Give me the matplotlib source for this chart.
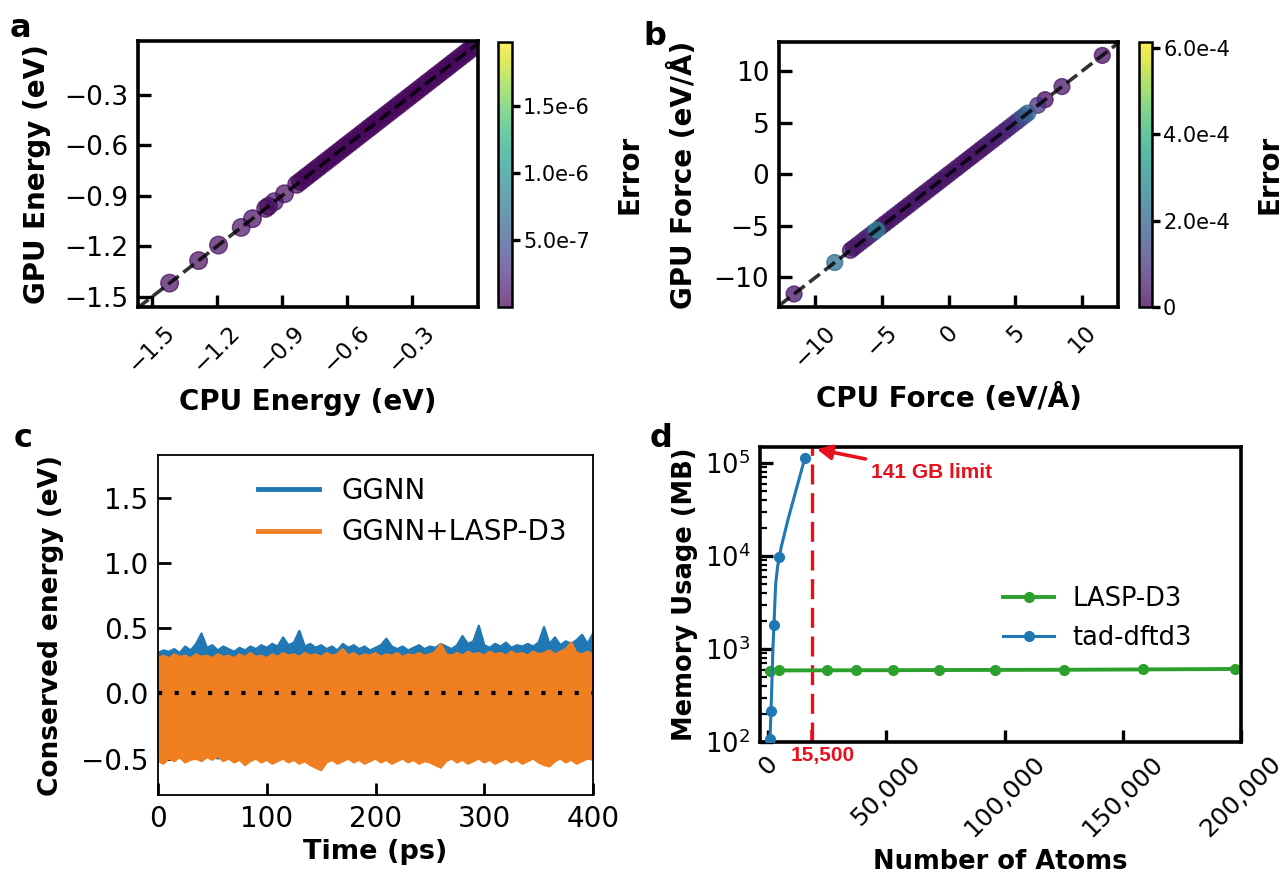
import numpy as np
import matplotlib
matplotlib.use('Agg')
import matplotlib.pyplot as plt
import matplotlib.transforms as mtransforms
from matplotlib.ticker import FuncFormatter, FixedLocator, LogLocator, NullFormatter
from matplotlib.path import Path
from matplotlib.patches import PathPatch
from matplotlib.lines import Line2D

W, H, DPI = 1283, 872, 100

# ---------------- data ----------------
# (a) energies: CPU vs GPU (identical within ~1e-7 eV)
cpu_energy = [-1.419, -1.285, -1.193, -1.088, -1.036, -0.975, -0.962, -0.935, -0.888,
              -0.832, -0.815, -0.797, -0.781, -0.762, -0.745, -0.728, -0.709, -0.692,
              -0.674, -0.657, -0.639, -0.621, -0.604, -0.586, -0.569, -0.551, -0.533,
              -0.516, -0.498, -0.481, -0.463, -0.446, -0.428, -0.410, -0.393, -0.375,
              -0.358, -0.340, -0.322, -0.305, -0.287, -0.270, -0.252, -0.234, -0.217,
              -0.199, -0.182, -0.164, -0.146, -0.129, -0.111, -0.094, -0.076, -0.058,
              -0.041, -0.023, -0.008]
gpu_energy = [-1.419, -1.285, -1.193, -1.088, -1.036, -0.975, -0.962, -0.935, -0.888,
              -0.832, -0.815, -0.797, -0.781, -0.762, -0.745, -0.728, -0.709, -0.692,
              -0.674, -0.657, -0.639, -0.621, -0.604, -0.586, -0.569, -0.551, -0.533,
              -0.516, -0.498, -0.481, -0.463, -0.446, -0.428, -0.410, -0.393, -0.375,
              -0.358, -0.340, -0.322, -0.305, -0.287, -0.270, -0.252, -0.234, -0.217,
              -0.199, -0.182, -0.164, -0.146, -0.129, -0.111, -0.094, -0.076, -0.058,
              -0.041, -0.023, -0.008]
energy_error = [6e-8, 5e-8, 6e-8, 7e-8, 5e-8, 3e-8, 4e-8, 8e-8, 6e-8,
                3e-8, 2e-8, 4e-8, 3e-8, 2e-8, 5e-8, 3e-8, 2e-8, 4e-8,
                3e-8, 2e-8, 3e-8, 4e-8, 2e-8, 3e-8, 5e-8, 3e-8, 2e-8,
                4e-8, 3e-8, 2e-8, 3e-8, 4e-8, 2e-8, 3e-8, 5e-8, 3e-8,
                2e-8, 4e-8, 3e-8, 2e-8, 3e-8, 4e-8, 2e-8, 3e-8, 5e-8,
                3e-8, 2e-8, 4e-8, 3e-8, 2e-8, 3e-8, 4e-8, 2e-8, 3e-8,
                5e-8, 3e-8, 2e-8]
energy_cbar_ticks = [5e-7, 1.0e-6, 1.5e-6]
energy_ticks = [-1.5, -1.2, -0.9, -0.6, -0.3]

# (b) forces: CPU vs GPU
cpu_force = [-11.60, -8.55, -7.37, -7.15, -6.85, -6.55, -6.25, -5.95, -5.65, -5.40,
             -5.10, -4.80, -4.50, -4.20, -3.90, -3.60, -3.30, -3.00, -2.70, -2.40,
             -2.10, -1.80, -1.50, -1.20, -0.90, -0.60, -0.30, 0.00, 0.30, 0.60,
             0.90, 1.20, 1.50, 1.80, 2.10, 2.40, 2.70, 3.00, 3.30, 3.60,
             3.90, 4.20, 4.50, 4.80, 5.10, 5.40, 5.70, 5.93, 6.68, 7.23,
             8.50, 11.52]
gpu_force = [-11.60, -8.55, -7.37, -7.15, -6.85, -6.55, -6.25, -5.95, -5.65, -5.40,
             -5.10, -4.80, -4.50, -4.20, -3.90, -3.60, -3.30, -3.00, -2.70, -2.40,
             -2.10, -1.80, -1.50, -1.20, -0.90, -0.60, -0.30, 0.00, 0.30, 0.60,
             0.90, 1.20, 1.50, 1.80, 2.10, 2.40, 2.70, 3.00, 3.30, 3.60,
             3.90, 4.20, 4.50, 4.80, 5.10, 5.40, 5.70, 5.93, 6.68, 7.23,
             8.50, 11.52]
force_error = [3e-5, 2.2e-4, 4e-5, 2e-5, 3e-5, 5e-5, 2e-5, 6e-5, 9e-5, 2.8e-4,
               4e-5, 2e-5, 3e-5, 2e-5, 4e-5, 2e-5, 3e-5, 2e-5, 4e-5, 2e-5,
               3e-5, 2e-5, 4e-5, 2e-5, 3e-5, 2e-5, 4e-5, 2e-5, 3e-5, 2e-5,
               4e-5, 2e-5, 3e-5, 2e-5, 4e-5, 2e-5, 3e-5, 5e-5, 3e-5, 4e-5,
               6e-5, 3e-5, 5e-5, 7e-5, 6e-5, 1.2e-4, 1.5e-4, 1.9e-4, 9e-5, 2e-5,
               4e-5, 3e-5]
force_cbar_ticks = [0, 2e-4, 4e-4, 6e-4]
force_ticks = [-10, -5, 0, 5, 10]

# (c) conserved energy: envelope of the fluctuations, sampled every 5 ps
time_ps = [0, 5, 10, 15, 20, 25, 30, 35, 40, 45, 50, 55, 60, 65, 70, 75, 80, 85, 90, 95,
           100, 105, 110, 115, 120, 125, 130, 135, 140, 145, 150, 155, 160, 165, 170, 175,
           180, 185, 190, 195, 200, 205, 210, 215, 220, 225, 230, 235, 240, 245, 250, 255,
           260, 265, 270, 275, 280, 285, 290, 295, 300, 305, 310, 315, 320, 325, 330, 335,
           340, 345, 350, 355, 360, 365, 370, 375, 380, 385, 390, 395, 400]
ggnn_upper = [0.31, 0.33, 0.32, 0.34, 0.31, 0.36, 0.33, 0.38, 0.46, 0.35, 0.37, 0.33, 0.36,
              0.34, 0.32, 0.35, 0.33, 0.36, 0.34, 0.37, 0.35, 0.38, 0.36, 0.43, 0.37, 0.39,
              0.48, 0.36, 0.38, 0.35, 0.37, 0.34, 0.36, 0.33, 0.38, 0.35, 0.37, 0.34, 0.36,
              0.33, 0.35, 0.37, 0.42, 0.36, 0.34, 0.36, 0.33, 0.35, 0.37, 0.34, 0.36, 0.35,
              0.38, 0.36, 0.34, 0.37, 0.44, 0.38, 0.40, 0.52, 0.37, 0.35, 0.38, 0.36, 0.39,
              0.35, 0.37, 0.36, 0.38, 0.36, 0.39, 0.51, 0.38, 0.43, 0.37, 0.40, 0.38, 0.41,
              0.45, 0.38, 0.46]
ggnn_lower = [-0.49, -0.50, -0.48, -0.49, -0.47, -0.50, -0.48, -0.47, -0.49, -0.47, -0.48,
              -0.50, -0.49, -0.47, -0.50, -0.48, -0.51, -0.49, -0.47, -0.50, -0.48, -0.51,
              -0.49, -0.47, -0.50, -0.48, -0.51, -0.49, -0.51, -0.53, -0.55, -0.50, -0.48,
              -0.51, -0.49, -0.47, -0.50, -0.48, -0.51, -0.49, -0.48, -0.50, -0.48, -0.51,
              -0.49, -0.47, -0.50, -0.48, -0.51, -0.49, -0.50, -0.52, -0.53, -0.49, -0.47,
              -0.50, -0.48, -0.51, -0.49, -0.47, -0.50, -0.48, -0.51, -0.49, -0.47, -0.50,
              -0.48, -0.51, -0.49, -0.47, -0.50, -0.52, -0.52, -0.49, -0.47, -0.50, -0.48,
              -0.51, -0.49, -0.47, -0.48]
d3_upper = [0.27, 0.29, 0.27, 0.30, 0.28, 0.29, 0.27, 0.30, 0.28, 0.29, 0.27, 0.30, 0.28,
            0.29, 0.27, 0.30, 0.28, 0.31, 0.28, 0.29, 0.27, 0.30, 0.28, 0.31, 0.29, 0.30,
            0.28, 0.31, 0.29, 0.30, 0.28, 0.31, 0.29, 0.30, 0.34, 0.29, 0.31, 0.28, 0.30,
            0.29, 0.31, 0.28, 0.30, 0.29, 0.31, 0.28, 0.30, 0.29, 0.31, 0.29, 0.30, 0.32,
            0.38, 0.30, 0.29, 0.31, 0.29, 0.32, 0.30, 0.31, 0.29, 0.32, 0.30, 0.31, 0.29,
            0.32, 0.30, 0.31, 0.29, 0.32, 0.30, 0.31, 0.33, 0.30, 0.32, 0.34, 0.39, 0.31,
            0.30, 0.32, 0.30]
d3_lower = [-0.52, -0.54, -0.50, -0.52, -0.49, -0.53, -0.51, -0.50, -0.52, -0.49, -0.51,
            -0.48, -0.52, -0.50, -0.53, -0.51, -0.55, -0.52, -0.50, -0.53, -0.51, -0.54,
            -0.52, -0.50, -0.53, -0.51, -0.54, -0.52, -0.55, -0.57, -0.59, -0.53, -0.51,
            -0.54, -0.52, -0.50, -0.53, -0.51, -0.54, -0.52, -0.50, -0.53, -0.51, -0.54,
            -0.52, -0.50, -0.53, -0.51, -0.54, -0.52, -0.53, -0.55, -0.57, -0.52, -0.50,
            -0.53, -0.51, -0.54, -0.52, -0.50, -0.53, -0.51, -0.54, -0.52, -0.50, -0.53,
            -0.51, -0.54, -0.52, -0.50, -0.53, -0.55, -0.56, -0.52, -0.50, -0.53, -0.51,
            -0.54, -0.52, -0.50, -0.51]
series_labels = ['GGNN', 'GGNN+LASP-D3']

# (d) memory usage
lasp_atoms = [800, 4800, 25000, 37000, 53000, 72500, 96000, 125000, 158500, 197500]
lasp_memory = [585, 588, 590, 591, 592, 594, 596, 598, 603, 610]
tad_atoms = [800, 1260, 2500, 4760, 15600]
tad_memory = [107, 215, 1790, 9800, 114000]
limit_mem = 141000
limit_atoms_pos = 18400
limit_label = '15,500'
atom_ticks = [0, 50000, 100000, 150000, 200000]
atom_ticklabels = ['0', '50,000', '100,000', '150,000', '200,000']

# ---------------- figure ----------------
fig = plt.figure(figsize=(W / DPI, H / DPI), dpi=DPI)


def rect(l, t, r, b):
    return [l / W, 1 - b / H, (r - l) / W, (b - t) / H]


def fx(px):
    return px / W


def fy(py):
    return 1 - py / H


def blend_x_axes(ax):
    return mtransforms.blended_transform_factory(ax.transAxes, fig.transFigure)


def blend_y_axes(ax):
    return mtransforms.blended_transform_factory(fig.transFigure, ax.transAxes)


axA = fig.add_axes(rect(138, 41, 478, 307))
caxA = fig.add_axes(rect(498, 42, 512, 307))
axB = fig.add_axes(rect(779, 42, 1118, 307))
caxB = fig.add_axes(rect(1139, 42, 1152, 307))
axC = fig.add_axes(rect(158, 455, 593, 795))
axD = fig.add_axes(rect(760, 447, 1241, 742))

LABEL_FS = 20
cb_fmt = FuncFormatter(lambda v, p: '0' if v == 0 else f'{v:.1e}'.replace('e-0', 'e-'))


def style_thick(ax, yfs, xfs, xpad=7):
    for s in ax.spines.values():
        s.set_linewidth(2.6)
    ax.tick_params(direction='in', length=9, width=2.4, pad=7)
    ax.tick_params(axis='y', labelsize=yfs)
    ax.tick_params(axis='x', labelsize=xfs, pad=xpad, labelrotation=45)


def style_cbar(cb, cax):
    cb.outline.set_linewidth(1.8)
    cax.tick_params(direction='out', length=6, width=2.4, labelsize=15, pad=2)
    cax.yaxis.set_major_formatter(cb_fmt)


# ---- (a)
lo_a, hi_a = -1.565, 0.006
order = np.argsort(energy_error)
scA = axA.scatter(np.array(cpu_energy)[order], np.array(gpu_energy)[order],
                  c=np.array(energy_error)[order], cmap='viridis', vmin=0, vmax=1.98e-6,
                  s=160, alpha=0.7, zorder=2)
axA.plot([lo_a, hi_a], [lo_a, hi_a], ls='--', color='k', alpha=0.8, lw=2.6, zorder=3)
axA.set_xlim(lo_a, hi_a)
axA.set_ylim(-1.561, 0.02)
axA.set_xticks(energy_ticks)
axA.set_yticks(energy_ticks)
style_thick(axA, 19, 16.5, xpad=10)
axA.set_xlabel('CPU Energy (eV)', fontsize=LABEL_FS, fontweight='bold')
axA.set_ylabel('GPU Energy (eV)', fontsize=LABEL_FS, fontweight='bold')
axA.xaxis.set_label_coords(0.5, fy(388), transform=blend_x_axes(axA))
axA.yaxis.set_label_coords(fx(51), 0.5, transform=blend_y_axes(axA))
cbA = fig.colorbar(scA, cax=caxA, ticks=energy_cbar_ticks)
style_cbar(cbA, caxA)
cbA.set_label('Error', fontsize=LABEL_FS, fontweight='bold')
caxA.yaxis.set_label_coords(fx(615), 0.5, transform=blend_y_axes(caxA))

# ---- (b)
lo_b, hi_b = -12.73, 12.70
order = np.argsort(force_error)
scB = axB.scatter(np.array(cpu_force)[order], np.array(gpu_force)[order],
                  c=np.array(force_error)[order], cmap='viridis', vmin=0, vmax=6.14e-4,
                  s=130, alpha=0.75, zorder=2)
axB.plot([lo_b, hi_b], [lo_b, hi_b], ls='--', color='k', alpha=0.8, lw=2.6, zorder=3)
axB.set_xlim(lo_b, hi_b)
axB.set_ylim(-12.86, 12.82)
axB.set_xticks(force_ticks)
axB.set_yticks(force_ticks)
style_thick(axB, 19, 16.5, xpad=10)
axB.set_xlabel('CPU Force (eV/Å)', fontsize=LABEL_FS, fontweight='bold')
axB.set_ylabel('GPU Force (eV/Å)', fontsize=LABEL_FS, fontweight='bold')
axB.xaxis.set_label_coords(0.5, fy(384), transform=blend_x_axes(axB))
axB.yaxis.set_label_coords(fx(698), 0.5, transform=blend_y_axes(axB))
cbB = fig.colorbar(scB, cax=caxB, ticks=force_cbar_ticks)
style_cbar(cbB, caxB)
cbB.set_label('Error', fontsize=LABEL_FS, fontweight='bold')
caxB.yaxis.set_label_coords(fx(1255), 0.5, transform=blend_y_axes(caxB))

# ---- (c)
blue, orange = '#1f77b4', '#f07f22'
axC.fill_between(time_ps, ggnn_lower, ggnn_upper, color=blue, lw=0, zorder=1)
l1, = axC.plot(time_ps, ggnn_upper, color=blue, lw=1.6, label=series_labels[0], zorder=1)
axC.plot(time_ps, ggnn_lower, color=blue, lw=1.6, zorder=1)
axC.fill_between(time_ps, d3_lower, d3_upper, color=orange, lw=0, zorder=2)
l2, = axC.plot(time_ps, d3_upper, color=orange, lw=1.6, label=series_labels[1], zorder=2)
axC.plot(time_ps, d3_lower, color=orange, lw=1.6, zorder=2)
axC.axhline(0, color='k', lw=3, ls=(0, (1, 3)), zorder=3)
axC.set_xlim(0, 400)
axC.set_ylim(-0.78, 1.83)
axC.set_xticks([0, 100, 200, 300, 400])
axC.set_yticks([-0.5, 0.0, 0.5, 1.0, 1.5])
for s in axC.spines.values():
    s.set_linewidth(1.3)
axC.tick_params(direction='in', length=9, width=2.0, labelsize=20, pad=7)
axC.set_xlabel('Time (ps)', fontsize=19.5, fontweight='bold')
axC.set_ylabel('Conserved energy (eV)', fontsize=19, fontweight='bold')
axC.xaxis.set_label_coords(0.5, fy(839), transform=blend_x_axes(axC))
axC.yaxis.set_label_coords(fx(64), 0.5, transform=blend_y_axes(axC))
legC = axC.legend(handles=[l1, l2], loc='upper left', frameon=False, fontsize=20,
                  bbox_to_anchor=((258 - 158) / 435, (795 - 477) / 340),
                  borderpad=0, borderaxespad=0, handlelength=2.2, handletextpad=0.8,
                  labelspacing=0.48)
for ln in legC.get_lines():
    ln.set_linewidth(3.5)

# ---- (d)
green = '#2ca02c'
gl, = axD.plot(lasp_atoms, lasp_memory, color=green, lw=2.8, marker='o', ms=7,
               label='LASP-D3', zorder=2)
axD.plot(tad_atoms, tad_memory, color=blue, ls='none', marker='o', ms=7, zorder=4)
axD.axvline(limit_atoms_pos, color='#e8101c', lw=2.4, ls=(0, (6, 2.6)), zorder=1)
axD.set_yscale('log')
axD.set_xlim(-3400, 199100)
axD.set_ylim(100, 1.486e5)
axD.set_xticks(atom_ticks)
axD.set_xticklabels(atom_ticklabels)
axD.xaxis.set_minor_locator(FixedLocator([limit_atoms_pos]))
axD.xaxis.set_minor_formatter(NullFormatter())
axD.yaxis.set_minor_locator(LogLocator(base=10, subs=np.arange(2, 10), numticks=20))
axD.yaxis.set_minor_formatter(NullFormatter())
style_thick(axD, 18.5, 18, xpad=7)
axD.tick_params(axis='y', which='minor', direction='in', length=5, width=1.6)
axD.tick_params(axis='x', which='minor', direction='in', length=9, width=2.6,
                color='#e8101c')

# smooth connecting curve through the tad-dftd3 points (Catmull-Rom drawn in display space)
pts = axD.transData.transform(np.column_stack([tad_atoms, tad_memory]))
n = len(pts)
verts, codes = [pts[0]], [Path.MOVETO]
for i in range(n - 1):
    p0, p1 = pts[max(i - 1, 0)], pts[i]
    p2, p3 = pts[i + 1], pts[min(i + 2, n - 1)]
    verts += [p1 + (p2 - p0) / 6.0, p2 - (p3 - p1) / 6.0, p2]
    codes += [Path.CURVE4] * 3
curve = PathPatch(Path(verts, codes), transform=mtransforms.IdentityTransform(),
                  fill=False, edgecolor=blue, lw=2.2, zorder=3)
axD.add_artist(curve)
bl = Line2D([], [], color=blue, lw=2.2, marker='o', ms=7, label='tad-dftd3')

axD.annotate(limit_label, xy=(limit_atoms_pos, 0),
             xycoords=mtransforms.blended_transform_factory(axD.transData, axD.transAxes),
             xytext=(11, -13), textcoords='offset pixels', ha='center', va='center',
             color='#e8101c', fontsize=15, fontweight='bold', family='Liberation Sans')
axD.annotate('141 GB limit', xy=(20600, limit_mem), xytext=(43600, 79400),
             color='#e8101c', fontsize=15, fontweight='bold', family='Liberation Sans',
             ha='left', va='center',
             arrowprops=dict(arrowstyle='-|>', color='#e8101c', lw=2.6, mutation_scale=22,
                             shrinkA=4, shrinkB=0))
axD.set_xlabel('Number of Atoms', fontsize=18.5, fontweight='bold')
axD.set_ylabel('Memory Usage (MB)', fontsize=18.5, fontweight='bold')
axD.xaxis.set_label_coords(0.5, fy(849), transform=blend_x_axes(axD))
axD.yaxis.set_label_coords(fx(698), 0.5, transform=blend_y_axes(axD))
axD.legend(handles=[gl, bl], loc='upper left', frameon=False, fontsize=18.5,
           bbox_to_anchor=((1003 - 760) / 481, (742 - 586) / 295),
           borderpad=0, borderaxespad=0, handlelength=2.0, handletextpad=0.7,
           labelspacing=0.5)

# ---- panel letters
for letter, x, y in [('a', 10, 37), ('b', 643, 45), ('c', 14, 447), ('d', 650, 447)]:
    fig.text(fx(x), fy(y), letter, fontsize=23, fontweight='bold', ha='left', va='baseline')

fig.savefig('out.png', dpi=DPI)
